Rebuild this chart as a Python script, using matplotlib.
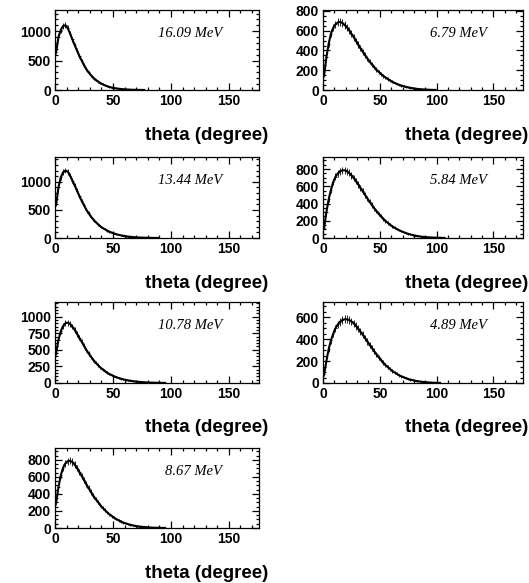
import numpy as np
import matplotlib
matplotlib.use("Agg")
import matplotlib.pyplot as plt
from matplotlib.ticker import MultipleLocator

# bin centres (degrees), 2-degree bins
theta = list(range(1, 109, 2))

energies = ["16.09 MeV", "13.44 MeV", "10.78 MeV", "8.67 MeV",
            "6.79 MeV", "5.84 MeV", "4.89 MeV"]

c_16_09 = [650, 900, 1020, 1090, 1100, 1050, 960, 860, 760, 670, 580, 500, 420, 355,
           300, 250, 210, 175, 145, 120, 98, 80, 65, 52, 42, 34, 27, 21, 17, 13, 10, 8,
           6, 4, 3, 2, 2, 1, 1]
c_13_44 = [600, 900, 1080, 1170, 1200, 1180, 1110, 1020, 930, 840, 750, 660, 580, 505,
           440, 380, 330, 285, 245, 210, 180, 155, 132, 112, 95, 80, 67, 56, 47, 39, 32,
           26, 21, 17, 14, 11, 9, 7, 5, 4, 3, 2, 2, 1, 1]
c_10_78 = [450, 650, 780, 860, 900, 910, 890, 850, 800, 740, 680, 620, 560, 500, 445,
           395, 350, 308, 270, 236, 206, 180, 156, 135, 117, 101, 87, 75, 64, 55, 47, 40,
           34, 29, 24, 20, 17, 14, 11, 9, 7, 6, 5, 4, 3, 2, 2, 1]
c_8_67 = [300, 480, 620, 710, 760, 785, 790, 775, 745, 705, 660, 612, 563, 515, 468,
          423, 381, 341, 304, 270, 239, 210, 184, 161, 140, 121, 104, 89, 76, 64, 54, 45,
          38, 31, 26, 21, 17, 14, 11, 9, 7, 5, 4, 3, 2, 2, 1, 1]
c_6_79 = [150, 330, 470, 570, 630, 665, 685, 690, 680, 660, 635, 605, 570, 535, 498,
          460, 423, 387, 352, 319, 288, 259, 232, 207, 184, 163, 144, 127, 111, 97, 84,
          72, 62, 53, 45, 38, 32, 27, 22, 18, 14, 11, 9, 7, 5, 4, 3, 2, 1, 1]
c_5_84 = [120, 300, 450, 560, 650, 710, 750, 775, 785, 785, 775, 755, 728, 696, 660,
          622, 582, 541, 500, 460, 421, 383, 347, 313, 281, 251, 224, 199, 176, 155, 136,
          119, 104, 90, 78, 67, 57, 48, 41, 34, 28, 23, 19, 15, 12, 10, 8, 6, 5, 4, 3, 2,
          2, 1]
c_4_89 = [80, 200, 310, 390, 450, 500, 535, 560, 575, 582, 582, 575, 562, 544, 522,
          497, 470, 441, 411, 380, 350, 320, 290, 262, 235, 210, 186, 165, 145, 127, 111,
          96, 83, 71, 61, 52, 44, 37, 31, 26, 21, 17, 14, 11, 9, 7, 5, 4, 3, 2, 1, 1]

counts = [c_16_09, c_13_44, c_10_78, c_8_67, c_6_79, c_5_84, c_4_89]

y_max = [1360, 1440, 1220, 940, 810, 940, 740]
y_major = [500, 500, 250, 200, 200, 200, 200]
y_minor = [100, 100, 50, 50, 50, 50, 50]

W, H = 529, 583
fig = plt.figure(figsize=(W / 100, H / 100), dpi=100)

rows_px = [(10, 90), (157, 238), (302, 383), (448, 528)]
cols_px = [(55, 259), (323, 523)]

positions = [(0, 0), (0, 1), (0, 2), (0, 3), (1, 0), (1, 1), (1, 2)]

for i, (col, row) in enumerate(positions):
    x0, x1 = cols_px[col]
    yt, yb = rows_px[row]
    ax = fig.add_axes([x0 / W, 1 - yb / H, (x1 - x0) / W, (yb - yt) / H])
    c = np.array(counts[i], dtype=float)
    t = np.array(theta[:len(c)], dtype=float)
    ax.plot(t, c, color="black", lw=1.5)
    ax.errorbar(t, c, yerr=np.sqrt(c) * 1.5, xerr=1.0, fmt="none",
                ecolor="black", elinewidth=0.6)
    ax.set_xlim(0, 176)
    ax.set_ylim(0, y_max[i])
    ax.xaxis.set_major_locator(MultipleLocator(50))
    ax.xaxis.set_minor_locator(MultipleLocator(10))
    ax.yaxis.set_major_locator(MultipleLocator(y_major[i]))
    ax.yaxis.set_minor_locator(MultipleLocator(y_minor[i]))
    ax.tick_params(which="both", direction="in", top=True, right=True,
                   width=0.9, colors="black")
    ax.tick_params(which="major", length=5, pad=3)
    ax.tick_params(which="minor", length=2.5)
    for lab in ax.get_xticklabels() + ax.get_yticklabels():
        lab.set_fontfamily("Liberation Sans")
        lab.set_fontweight("bold")
        lab.set_fontsize(10)
    for s in ax.spines.values():
        s.set_linewidth(0.9)
    ax.text(0.82, 0.71, energies[i], transform=ax.transAxes, ha="right",
            va="center", fontsize=10.5, fontstyle="italic",
            family="Liberation Serif")
    xr = min(x1 + 9, 528)
    fig.text(xr / W, 1 - (yb + 45) / H, "theta (degree)", ha="right", va="center",
             fontsize=13.5, fontweight="bold", family="Liberation Sans")

fig.savefig("out.png", dpi=100)
